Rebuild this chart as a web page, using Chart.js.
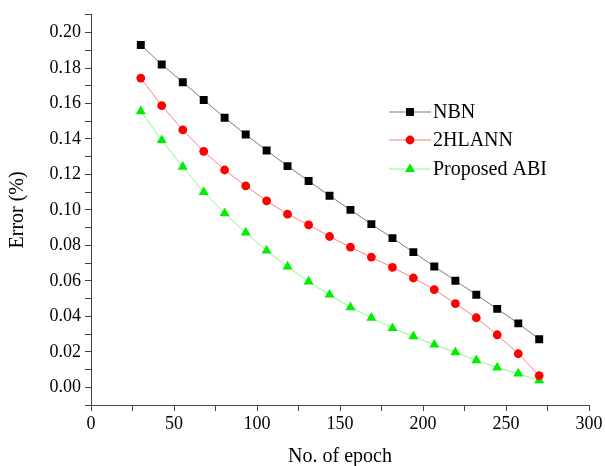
<!DOCTYPE html>
<html>
<head>
<meta charset="utf-8">
<script src="https://cdn.jsdelivr.net/npm/chart.js@4/dist/chart.umd.min.js"></script>
<style>
  html, body { margin: 0; padding: 0; background: #fff; }
  #wrap { width: 605px; height: 466px; }
</style>
</head>
<body>
<div id="wrap"><canvas id="chart"></canvas></div>
<script>
// epochs
const epochs = [30, 42.6, 55.3, 67.9, 80.5, 93.2, 105.8, 118.4, 131.1, 143.7,
  156.3, 168.9, 181.6, 194.2, 206.8, 219.5, 232.1, 244.7, 257.4, 270];

const nbn = [0.193, 0.182, 0.172, 0.162, 0.152, 0.1425, 0.1335, 0.1247, 0.1163, 0.108,
  0.100, 0.092, 0.0841, 0.0762, 0.0681, 0.0601, 0.0522, 0.0442, 0.036, 0.0271];

const hlann = [0.1743, 0.1588, 0.1451, 0.133, 0.1225, 0.1135, 0.1051, 0.0976, 0.0916, 0.085,
  0.079, 0.0734, 0.0676, 0.0616, 0.0551, 0.0472, 0.0392, 0.0296, 0.0189, 0.0066];

const abi = [0.1556, 0.1393, 0.1243, 0.1101, 0.0981, 0.0872, 0.077, 0.068, 0.0596, 0.0522,
  0.0451, 0.0392, 0.0333, 0.0287, 0.024, 0.0197, 0.0152, 0.0111, 0.0077, 0.0039];

const seriesNames = ["NBN", "2HLANN", "Proposed ABI"];

const FONT = "'Liberation Serif', 'Times New Roman', serif";

const toPoints = ys => ys.map((y, i) => ({ x: epochs[i], y: y }));

const styles = [
  { line: "#7a7a7a", fill: "#000000", point: "rect", radius: 5.6 },
  { line: "#ff7f7f", fill: "#ff0000", point: "circle", radius: 4.4 },
  { line: "#7fff7f", fill: "#00ee00", point: "triangle", radius: 5.8 }
];

const allData = [nbn, hlann, abi];

// legend drawn like the original: line - marker - line, then label
const lineLegend = {
  id: "lineLegend",
  afterDatasetsDraw(chart) {
    const ctx = chart.ctx;
    const rows = [112, 140, 169];
    ctx.save();
    seriesNames.forEach((name, i) => {
      const s = styles[i];
      const y = rows[i];
      ctx.strokeStyle = s.line;
      ctx.lineWidth = 1;
      ctx.beginPath();
      ctx.moveTo(389, y);
      ctx.lineTo(431, y);
      ctx.stroke();
      ctx.fillStyle = s.fill;
      ctx.strokeStyle = s.fill;
      Chart.helpers.drawPoint(ctx, { pointStyle: s.point, radius: s.radius, rotation: 0, borderWidth: 0 }, 410, y);
      ctx.fillStyle = "#000";
      ctx.font = "20px " + FONT;
      ctx.textBaseline = "middle";
      ctx.textAlign = "left";
      ctx.fillText(name, 433, y + 1);
    });
    ctx.restore();
  }
};

new Chart(document.getElementById("chart"), {
  type: "line",
  data: {
    datasets: seriesNames.map((name, i) => ({
      label: name,
      data: toPoints(allData[i]),
      borderColor: styles[i].line,
      borderWidth: 1,
      backgroundColor: styles[i].fill,
      pointStyle: styles[i].point,
      pointRadius: styles[i].radius,
      pointBorderWidth: 0,
      pointBackgroundColor: styles[i].fill,
      pointBorderColor: styles[i].fill,
      tension: 0
    }))
  },
  options: {
    responsive: true,
    maintainAspectRatio: false,
    animation: false,
    layout: { padding: { top: 12, right: 16, left: 0, bottom: 0 } },
    plugins: {
      legend: { display: false },
      tooltip: { enabled: false }
    },
    scales: {
      x: {
        type: "linear",
        min: 0,
        max: 300,
        afterFit: s => { s.height = 61; },
        border: { color: "#444", width: 1 },
        grid: { drawOnChartArea: false, tickLength: 6, color: "#444" },
        ticks: {
          stepSize: 25,
          maxRotation: 0,
          autoSkip: false,
          padding: 2,
          color: "#000",
          font: { family: FONT, size: 18 },
          callback: v => (v % 50 === 0 ? String(v) : "")
        },
        title: {
          display: true,
          text: "No. of epoch",
          color: "#000",
          font: { family: FONT, size: 20 },
          padding: { top: 0, bottom: -3 }
        }
      },
      y: {
        min: -0.01,
        max: 0.21,
        afterFit: s => { s.width = 91; },
        border: { color: "#444", width: 1 },
        grid: { drawOnChartArea: false, tickLength: 6, color: "#444" },
        ticks: {
          stepSize: 0.01,
          autoSkip: false,
          padding: 4,
          color: "#000",
          font: { family: FONT, size: 18 },
          callback: v => {
            const n = Math.round(v * 100);
            if (n < 0 || n > 20 || n % 2 !== 0) return "";
            return (n / 100).toFixed(2);
          }
        },
        title: {
          display: true,
          text: "Error (%)",
          color: "#000",
          font: { family: FONT, size: 20 },
          padding: { top: 6, bottom: 0 }
        }
      }
    }
  },
  plugins: [lineLegend]
});
</script>
</body>
</html>
